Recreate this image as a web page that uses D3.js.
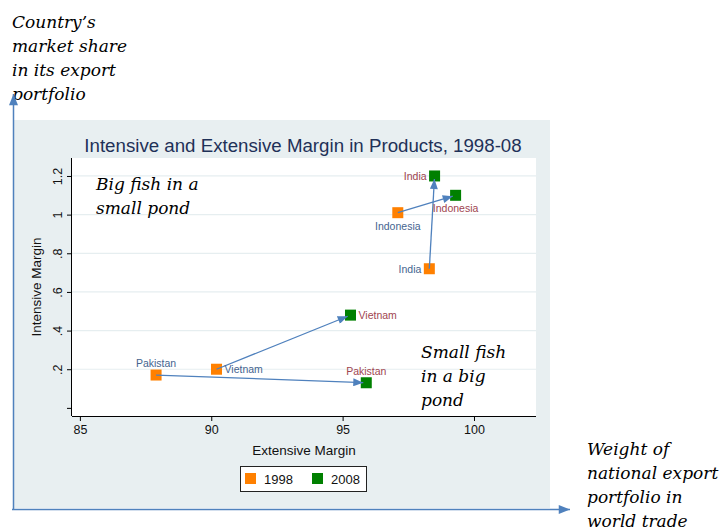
<!doctype html>
<html>
<head>
<meta charset="utf-8">
<script src="https://cdn.jsdelivr.net/npm/d3@7"></script>
<style>
  body { margin: 0; background: #fff; }
  svg { display: block; }
  .sans { font-family: "Liberation Sans", Arial, sans-serif; }
  .serif { font-family: "DejaVu Serif", serif; font-style: italic; font-size: 17px; fill: #000; }
</style>
</head>
<body>
<svg width="725" height="531"></svg>
<script>
// data
const countries = ["Pakistan", "Vietnam", "Indonesia", "India"];
const extensive1998 = [87.9, 90.2, 97.1, 98.3];
const intensive1998 = [0.17, 0.20, 1.01, 0.72];
const extensive2008 = [95.9, 95.3, 99.3, 98.5];
const intensive2008 = [0.13, 0.48, 1.10, 1.20];
const years = ["1998", "2008"];
const xTicks = [85, 90, 95, 100];
const yTicks = [0, 0.2, 0.4, 0.6, 0.8, 1, 1.2];
const yTickLabels = ["", ".2", ".4", ".6", ".8", "1", "1.2"];

// where each label sits, as a clock position (stata mlabpos style)
const labelPos1998 = { Pakistan: 12, Vietnam: 3, Indonesia: 6, India: 9 };
const labelPos2008 = { Pakistan: 12, Vietnam: 3, Indonesia: 6, India: 9 };

const svg = d3.select("svg");
const blue = "#4f81bd";
const colors = { "1998": "#ff8000", "2008": "#008000" };
const labelColors = { "1998": "#45648f", "2008": "#a04550" };

// outer graph region
svg.append("rect").attr("x", 14).attr("y", 120).attr("width", 536).attr("height", 388)
  .attr("fill", "#e8eff1");

const plot = { left: 72, right: 536, top: 158, bottom: 416 };
svg.append("rect").attr("x", plot.left).attr("y", plot.top)
  .attr("width", plot.right - plot.left).attr("height", plot.bottom - plot.top)
  .attr("fill", "#fff");

const x = d3.scaleLinear().domain([84.7, 102.36]).range([plot.left, plot.right]);
const y = d3.scaleLinear().domain([-0.042, 1.293]).range([plot.bottom, plot.top]);

// gridlines
svg.append("g").selectAll("line").data(yTicks.slice(1)).enter().append("line")
  .attr("x1", plot.left).attr("x2", plot.right)
  .attr("y1", d => y(d)).attr("y2", d => y(d))
  .attr("stroke", "#e6eef0").attr("stroke-width", 1.2);

// axes
const xAxis = d3.axisBottom(x).tickValues(xTicks).tickSize(5).tickPadding(4);
const gx = svg.append("g").attr("class", "sans")
  .attr("transform", "translate(0," + plot.bottom + ")").call(xAxis);
gx.select(".domain").attr("d", "M" + plot.left + ",0.5H" + plot.right).attr("stroke", "#000");
gx.selectAll("text").attr("font-size", "12.5px").attr("fill", "#111");

const yAxis = d3.axisLeft(y).tickValues(yTicks).tickSize(5)
  .tickFormat((d, i) => yTickLabels[i]);
const gy = svg.append("g").attr("class", "sans")
  .attr("transform", "translate(" + plot.left + ",0)").call(yAxis);
gy.select(".domain").attr("d", "M-0.5," + plot.top + "V" + plot.bottom).attr("stroke", "#000");
gy.selectAll("text").attr("font-size", "12.5px").attr("fill", "#111")
  .attr("text-anchor", "middle").attr("x", 0).attr("dy", 0)
  .attr("transform", "translate(-10,0) rotate(-90)");

svg.append("text").attr("class", "sans").attr("x", (plot.left + plot.right) / 2).attr("y", 455)
  .attr("text-anchor", "middle").attr("font-size", "13.5px").attr("fill", "#111")
  .text("Extensive Margin");
svg.append("text").attr("class", "sans").attr("transform", "translate(41,287) rotate(-90)")
  .attr("text-anchor", "middle").attr("font-size", "13.5px").attr("fill", "#111")
  .text("Intensive Margin");

svg.append("text").attr("class", "sans").attr("x", (plot.left + plot.right) / 2 - 1).attr("y", 152)
  .attr("text-anchor", "middle").attr("font-size", "18.7px").attr("fill", "#1f3158")
  .text("Intensive and Extensive Margin in Products, 1998-08");

// points
const pts = countries.map((c, i) => ({
  country: c,
  x0: extensive1998[i], y0: intensive1998[i],
  x1: extensive2008[i], y1: intensive2008[i]
}));

const sq = 11;
[["1998", "x0", "y0"], ["2008", "x1", "y1"]].forEach(([yr, kx, ky]) => {
  svg.append("g").selectAll("rect").data(pts).enter().append("rect")
    .attr("x", d => x(d[kx]) - sq / 2).attr("y", d => y(d[ky]) - sq / 2)
    .attr("width", sq).attr("height", sq)
    .attr("fill", colors[yr]);
});

// arrows 1998 -> 2008
const defs = svg.append("defs");
defs.append("marker").attr("id", "head").attr("viewBox", "0 0 10 8")
  .attr("refX", 10).attr("refY", 4).attr("markerWidth", 11).attr("markerHeight", 8)
  .attr("markerUnits", "userSpaceOnUse").attr("orient", "auto")
  .append("path").attr("d", "M0,0L10,4L0,8Z").attr("fill", blue);
defs.append("marker").attr("id", "headBig").attr("viewBox", "0 0 10 8")
  .attr("refX", 10).attr("refY", 4).attr("markerWidth", 12).attr("markerHeight", 9)
  .attr("markerUnits", "userSpaceOnUse").attr("orient", "auto")
  .append("path").attr("d", "M0,0L10,4L0,8Z").attr("fill", blue);

svg.append("g").selectAll("line").data(pts).enter().append("line")
  .each(function (d) {
    const ax = x(d.x0), ay = y(d.y0), bx = x(d.x1), by = y(d.y1);
    const len = Math.hypot(bx - ax, by - ay), back = 3;
    d3.select(this).attr("x1", ax).attr("y1", ay)
      .attr("x2", bx - (bx - ax) / len * back).attr("y2", by - (by - ay) / len * back);
  })
  .attr("stroke", blue).attr("stroke-width", 1.3)
  .attr("marker-end", "url(#head)");

// point labels
function placeLabel(sel, pos) {
  if (pos === 12) sel.attr("dx", 0).attr("dy", -8).attr("text-anchor", "middle");
  else if (pos === 3) sel.attr("dx", 8).attr("dy", 4).attr("text-anchor", "start");
  else if (pos === 6) sel.attr("dx", 0).attr("dy", 17).attr("text-anchor", "middle");
  else sel.attr("dx", -8).attr("dy", 4).attr("text-anchor", "end");
}
[["1998", "x0", "y0", labelPos1998], ["2008", "x1", "y1", labelPos2008]].forEach(([yr, kx, ky, lp]) => {
  svg.append("g").selectAll("text").data(pts).enter().append("text")
    .attr("class", "sans").attr("font-size", "10.5px").attr("fill", labelColors[yr])
    .attr("x", d => x(d[kx])).attr("y", d => y(d[ky]))
    .each(function (d) { placeLabel(d3.select(this), lp[d.country]); })
    .text(d => d.country);
});

// annotations in the plot
function serifLines(lines, x0, y0) {
  const t = svg.append("text").attr("class", "serif").attr("x", x0).attr("y", y0);
  lines.forEach((s, i) => t.append("tspan").attr("x", x0).attr("dy", i ? 24 : 0).text(s));
}
serifLines(["Big fish in a", "small pond"], 96, 190);
serifLines(["Small fish", "in a big", "pond"], 421, 358);
serifLines(["Country\u2019s", "market share", "in its export", "portfolio"], 12, 28);
serifLines(["Weight of", "national export", "portfolio in", "world trade"], 587, 455);

// legend
const lg = svg.append("g").attr("class", "sans");
lg.append("rect").attr("x", 240.5).attr("y", 466.5).attr("width", 126).attr("height", 25)
  .attr("fill", "#fff").attr("stroke", "#222").attr("stroke-width", 1);
const lx = d3.scalePoint().domain(years).range([245, 312]);
lg.selectAll("rect.key").data(years).enter().append("rect").attr("class", "key")
  .attr("x", d => lx(d)).attr("y", 473).attr("width", 11).attr("height", 11)
  .attr("fill", d => colors[d]);
lg.selectAll("text").data(years).enter().append("text")
  .attr("x", d => lx(d) + 19).attr("y", 484).attr("font-size", "13px").attr("fill", "#111")
  .text(d => d);

// big blue axes arrows
svg.append("line").attr("x1", 13.5).attr("y1", 510).attr("x2", 13.5).attr("y2", 94)
  .attr("stroke", blue).attr("stroke-width", 1.5).attr("marker-end", "url(#headBig)");
svg.append("line").attr("x1", 12).attr("y1", 509.5).attr("x2", 570).attr("y2", 509.5)
  .attr("stroke", blue).attr("stroke-width", 1.5).attr("marker-end", "url(#headBig)");
</script>
</body>
</html>
